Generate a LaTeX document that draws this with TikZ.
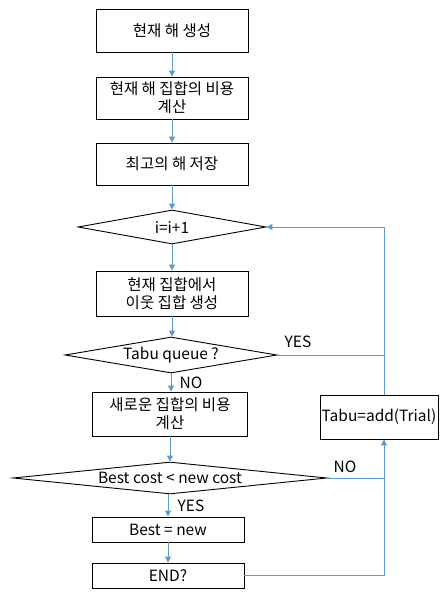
\documentclass[tikz,border=0pt]{standalone}
\usepackage{fontspec}
\setmainfont{Noto Sans CJK KR}
\usetikzlibrary{shapes.geometric,arrows.meta}
\definecolor{flowblue}{RGB}{91,155,213}
\tikzset{
  proc/.style={draw, line width=0.9pt, inner sep=0pt, align=center, minimum width=152pt},
  dec/.style={draw, diamond, line width=0.9pt, inner sep=0pt},
  flow/.style={draw=flowblue, line width=1pt, -{Triangle[length=6pt,width=6pt]}},
  link/.style={draw=flowblue, line width=1pt},
  lbl/.style={inner sep=0pt}
}
\begin{document}
\begin{tikzpicture}[x=1pt,y=-1pt,font=\fontsize{15.5}{18}\selectfont]
\useasboundingbox (0,0) rectangle (443,592);
% main column
\node[proc, minimum height=43pt] (gen) at (172,30.5) {현재 해 생성};
\node[proc, minimum height=42pt] (cost) at (172,98) {현재 해 집합의 비용\\계산};
\node[proc, minimum height=42pt] (save) at (172,164) {최고의 해 저장};
\node[dec, aspect=5.53, minimum width=188pt, minimum height=34pt] (inc) at (172,227) {i=i+1};
\node[proc, minimum height=45pt] (nbr) at (172,293.5) {현재 집합에서\\이웃 집합 생성};
\node[dec, aspect=5.9, minimum width=212pt, minimum height=36pt] (tabuq) at (171,355) {Tabu queue ?};
\node[proc, minimum width=155pt, minimum height=44pt] (newcost) at (170,414) {새로운 집합의 비용\\계산};
\node[dec, aspect=9.8, minimum width=314pt, minimum height=32pt] (cmp) at (170,478) {Best cost < new cost};
\node[proc, minimum height=25pt] (best) at (168,529.5) {Best = new};
\node[proc, minimum height=25pt] (stop) at (168,575.5) {END?};
% right side
\node[proc, minimum width=118pt, minimum height=44pt] (tabu) at (379,417) {Tabu=add(Trial)};
\coordinate (rail) at (384,417);

% arrows down
\draw[flow] (gen.south) -- (gen.south |- cost.north);
\draw[flow] (cost.south) -- (cost.south |- save.north);
\draw[flow] (save.south) -- (save.south |- inc.north);
\draw[flow] (inc.south) -- (inc.south |- nbr.north);
\draw[flow] (nbr.south) -- (nbr.south |- tabuq.north);
\draw[flow] (tabuq.south) -- (tabuq.south |- newcost.north);
\draw[flow] (newcost.south) -- (newcost.south |- cmp.north);
\draw[flow] (best.north |- cmp.south) -- (best.north);
\draw[flow] (best.south) -- (stop.north);

% loop back
\draw[flow] (rail |- tabu.north) -- (rail |- inc.east) -- (inc.east);
\draw[link] (tabuq.east) -- (tabuq.east -| rail);
\draw[link] (cmp.east) -- (cmp.east -| rail);
\draw[flow] (stop.east) -- (stop.east -| rail) -- (rail |- tabu.south);

% labels
\node[lbl] (yes1) at (298,342) {YES};
\node[lbl] (no1) at (191,383) {NO};
\node[lbl] (no2) at (345,467) {NO};
\node[lbl] (yes2) at (191,506) {YES};
\end{tikzpicture}
\end{document}
